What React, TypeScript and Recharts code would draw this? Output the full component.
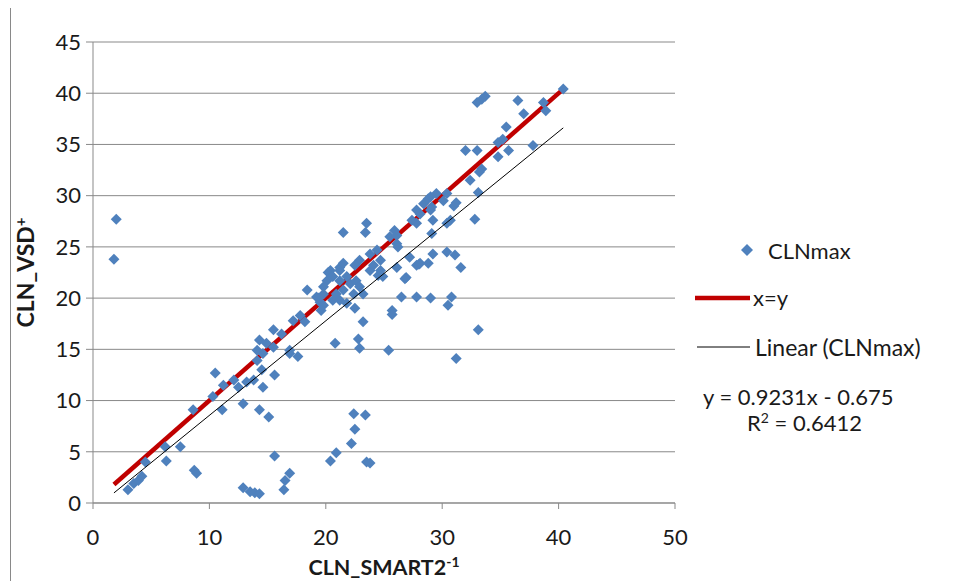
import { ScatterChart, Scatter, XAxis, YAxis, CartesianGrid } from 'recharts'

// CLNmax readings: CLN_SMART2^-1 (x) against CLN_VSD+ (y)
const smartValues = [
    2.0, 1.8, 3.0, 3.5, 3.9, 4.2, 4.5, 6.2, 6.3, 7.5,
    8.7, 8.9, 8.6, 10.3, 10.5, 11.2, 11.1, 12.1, 12.5, 12.9,
    13.2, 13.8, 14.5, 14.1, 14.6, 14.6, 14.3, 15.1, 15.6, 16.9,
    17.6, 14.3, 15.5, 14.9, 15.5, 16.2, 14.1, 16.9, 17.8, 17.2,
    18.2, 15.6, 16.9, 16.5, 16.4, 12.9, 13.5, 13.9, 14.3, 18.4,
    19.2, 19.5, 19.8, 20.2, 21.2, 20.8, 22.4, 23.4, 22.5, 22.2,
    20.9, 20.4, 23.5, 23.8, 33.1, 31.2, 25.4, 22.9, 22.8, 23.2,
    25.7, 25.7, 26.5, 27.8, 29.0, 30.8, 30.5, 31.6, 31.1, 26.9,
    28.0, 28.8, 22.5, 40.4, 33.0, 33.7, 33.4, 36.5, 38.7, 38.9,
    37.0, 35.5, 34.8, 35.2, 37.8, 35.7, 34.8, 32.0, 33.0, 33.4,
    33.2, 32.4, 33.1, 32.8, 30.4, 31.0, 31.2, 30.7, 29.0, 29.1,
    28.4, 28.1, 29.2, 27.8, 29.1, 25.9, 26.1, 25.5, 23.5, 23.4,
    21.5, 24.4, 23.8, 24.7, 24.1, 26.1, 29.2, 28.8, 27.8, 29.5,
    30.1, 29.0, 27.4, 26.1, 26.2, 22.9, 22.5, 21.5, 21.2, 20.4,
    20.1, 19.8, 19.4, 19.8, 20.6, 21.2, 21.8, 22.1, 22.6, 22.9,
    22.4, 23.2, 21.5, 20.9, 20.6, 21.2, 21.8, 23.8, 24.9, 26.8,
    27.8, 30.4, 27.2, 30.4, 28.1, 19.6, 24.5, 24.7,
]

const vsdValues = [
    27.7, 23.8, 1.3, 1.9, 2.2, 2.6, 4.0, 5.5, 4.1, 5.5,
    3.2, 2.9, 9.1, 10.4, 12.7, 11.5, 9.1, 12.0, 11.3, 9.7,
    11.8, 12.0, 13.0, 13.9, 14.6, 11.3, 9.1, 8.4, 12.5, 14.6,
    14.3, 15.9, 15.2, 15.6, 16.9, 16.5, 14.9, 14.9, 18.3, 17.8,
    17.7, 4.6, 2.9, 2.2, 1.3, 1.5, 1.1, 1.0, 0.9, 20.8,
    20.1, 19.6, 20.4, 22.5, 23.0, 15.6, 8.7, 8.6, 7.2, 5.8,
    4.9, 4.1, 4.0, 3.9, 16.9, 14.1, 14.9, 15.1, 16.0, 17.7,
    18.8, 18.4, 20.1, 20.1, 20.0, 20.1, 19.3, 23.0, 24.2, 22.0,
    23.3, 23.4, 19.0, 40.4, 39.1, 39.7, 39.4, 39.3, 39.1, 38.3,
    38.0, 36.7, 35.2, 35.5, 34.9, 34.4, 33.8, 34.4, 34.4, 32.6,
    32.3, 31.5, 30.3, 27.7, 30.2, 29.0, 29.3, 27.6, 29.9, 28.9,
    29.2, 28.2, 27.6, 27.3, 26.3, 26.6, 25.3, 26.0, 27.3, 26.4,
    26.4, 24.7, 24.3, 23.7, 23.2, 23.0, 24.3, 29.7, 28.6, 30.2,
    29.5, 28.6, 27.6, 26.1, 25.0, 23.7, 23.2, 23.4, 22.7, 22.7,
    21.7, 21.1, 20.0, 19.3, 22.1, 21.7, 22.1, 21.4, 21.7, 21.1,
    20.4, 20.4, 20.8, 20.4, 19.8, 19.8, 19.5, 22.7, 22.1, 21.9,
    23.2, 24.5, 24.0, 27.3, 23.4, 18.8, 22.2, 22.7,
]

// linear fit shown in the legend
const trendSlope = 0.9231
const trendIntercept = -0.675
const trendR2 = 0.6412

const xTicks = [0, 10, 20, 30, 40, 50]
const yTicks = [0, 5, 10, 15, 20, 25, 30, 35, 40, 45]

const points = smartValues.map((x, i) => ({ x, y: vsdValues[i] }))
const xMin = Math.min(...smartValues)
const xMax = Math.max(...smartValues)
const identityLine = [
    { x: xMin, y: xMin },
    { x: xMax, y: xMax },
]
const trendLine = [
    { x: xMin, y: trendSlope * xMin + trendIntercept },
    { x: xMax, y: trendSlope * xMax + trendIntercept },
]

const BLUE = '#4F81BD'
const RED = '#C00000'
const GRID = '#898989'
const TEXT = '#1a1a1a'
const FONT = 'Lato, "Open Sans", sans-serif'

const Diamond = (props: any) => {
    const { cx, cy } = props
    if (cx == null || cy == null) return <g />
    const r = 5.5
    return <path d={`M${cx},${cy - r}L${cx + r},${cy}L${cx},${cy + r}L${cx - r},${cy}Z`} fill={BLUE} />
}

const NoShape = () => <g />

const XTitle = (props: any) => {
    const { viewBox } = props
    const cx = viewBox.x + viewBox.width / 2
    return (
        <text x={cx} y={viewBox.y + 72} textAnchor="middle" fontFamily={FONT} fontWeight="bold" fontSize={21.5} fill={TEXT}>
            CLN_SMART2
            <tspan fontSize={14} dy={-8}>-1</tspan>
        </text>
    )
}

const YTitle = (props: any) => {
    const { viewBox } = props
    const cy = viewBox.y + viewBox.height / 2
    const x = 23
    return (
        <text x={x} y={cy} transform={`rotate(-90, ${x}, ${cy})`} textAnchor="middle" fontFamily={FONT} fontWeight="bold" fontSize={23} fill={TEXT}>
            CLN_VSD
            <tspan fontSize={15} dy={-8}>+</tspan>
        </text>
    )
}

const legendText: React.CSSProperties = {
    position: 'absolute',
    fontFamily: FONT,
    fontSize: 22,
    color: TEXT,
    lineHeight: '26px',
    whiteSpace: 'nowrap',
}

export default function App() {
    return (
        <div
            style={{
                position: 'relative',
                width: 948,
                height: 582,
                marginLeft: 2,
                marginTop: -4,
                border: `1px solid ${GRID}`,
                boxSizing: 'border-box',
                background: '#fff',
            }}
        >
            <ScatterChart width={946} height={580} margin={{ top: 37, right: 282, bottom: 12, left: 0 }}>
                <CartesianGrid vertical={false} stroke={GRID} strokeWidth={1} />
                <XAxis
                    type="number"
                    dataKey="x"
                    domain={[0, 50]}
                    ticks={xTicks}
                    interval={0}
                    height={70}
                    stroke={GRID}
                    tickSize={6}
                    tickMargin={20}
                    tick={{ fill: TEXT, fontSize: 22, fontFamily: FONT }}
                    label={<XTitle />}
                />
                <YAxis
                    type="number"
                    dataKey="y"
                    domain={[0, 45]}
                    ticks={yTicks}
                    interval={0}
                    width={82}
                    stroke={GRID}
                    tickSize={7}
                    tickMargin={5}
                    tick={{ fill: TEXT, fontSize: 22, fontFamily: FONT }}
                    label={<YTitle />}
                />
                <Scatter
                    name="x=y"
                    data={identityLine}
                    line={{ stroke: RED, strokeWidth: 4.5 }}
                    shape={NoShape}
                    isAnimationActive={false}
                />
                <Scatter name="CLNmax" data={points} shape={Diamond} isAnimationActive={false} />
                <Scatter
                    name="Linear (CLNmax)"
                    data={trendLine}
                    line={{ stroke: '#000', strokeWidth: 1 }}
                    shape={NoShape}
                    isAnimationActive={false}
                />
            </ScatterChart>

            {/* legend and fit equation */}
            <svg style={{ position: 'absolute', left: 0, top: 0 }} width={946} height={580}>
                <path d="M736,239L742,245L736,251L730,245Z" fill={BLUE} />
                <line x1={684} x2={739} y1={293} y2={293} stroke={RED} strokeWidth={4.5} />
                <line x1={686} x2={739} y1={342} y2={342} stroke="#000" strokeWidth={1} />
            </svg>
            <div style={{ ...legendText, left: 757, top: 233 }}>CLNmax</div>
            <div style={{ ...legendText, left: 742, top: 280 }}>x=y</div>
            <div style={{ ...legendText, left: 744, top: 329, fontSize: 23 }}>Linear (CLNmax)</div>
            <div style={{ ...legendText, left: 692, top: 379 }}>
                y = {trendSlope}x - {Math.abs(trendIntercept)}
            </div>
            <div style={{ ...legendText, left: 736, top: 405 }}>
                R<sup style={{ fontSize: 14, lineHeight: 0 }}>2</sup> = {trendR2}
            </div>
        </div>
    )
}
